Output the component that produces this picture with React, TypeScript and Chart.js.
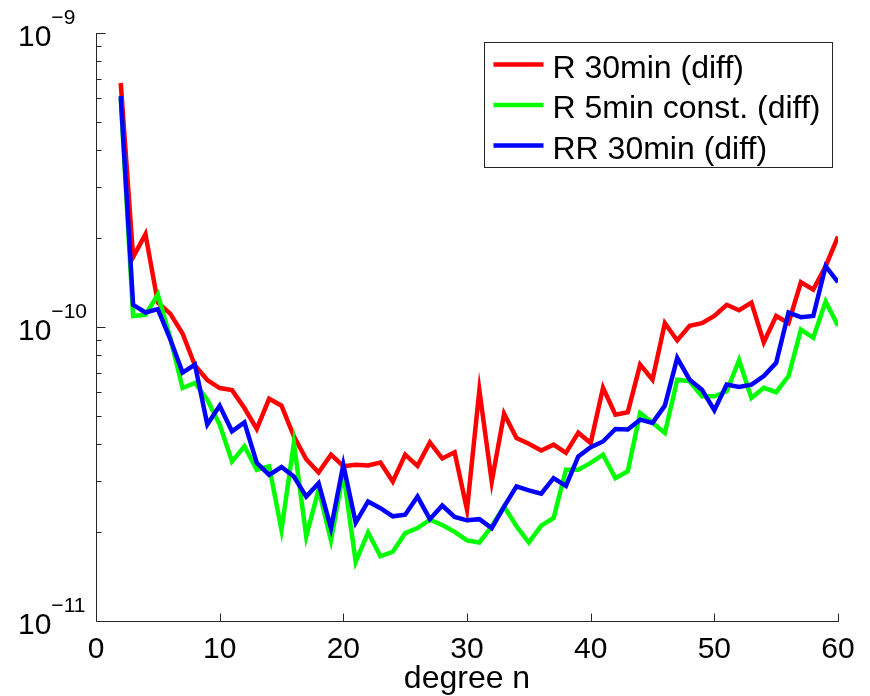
import React, { useEffect, useRef } from "react";
import { Chart, registerables } from "chart.js";

Chart.register(...registerables);

const degrees = [
  2, 3, 4, 5, 6, 7, 8, 9, 10, 11, 12, 13, 14, 15, 16, 17, 18, 19, 20, 21,
  22, 23, 24, 25, 26, 27, 28, 29, 30, 31, 32, 33, 34, 35, 36, 37, 38, 39, 40, 41,
  42, 43, 44, 45, 46, 47, 48, 49, 50, 51, 52, 53, 54, 55, 56, 57, 58, 59, 60,
];

const r30 = [
  6.76e-10, 1.73e-10, 2.07e-10, 1.21e-10, 1.11e-10, 9.5e-11, 7.4e-11, 6.6e-11, 6.2e-11, 6.1e-11,
  5.3e-11, 4.5e-11, 5.7e-11, 5.4e-11, 4.25e-11, 3.55e-11, 3.2e-11, 3.68e-11, 3.36e-11, 3.4e-11,
  3.38e-11, 3.46e-11, 2.98e-11, 3.68e-11, 3.37e-11, 4.05e-11, 3.57e-11, 3.75e-11, 2.39e-11, 6.09e-11,
  2.98e-11, 5.07e-11, 4.19e-11, 4.01e-11, 3.8e-11, 3.98e-11, 3.73e-11, 4.37e-11, 4.03e-11, 6.21e-11,
  5.03e-11, 5.13e-11, 7.45e-11, 6.62e-11, 1.03e-10, 9.0e-11, 1.01e-10, 1.03e-10, 1.09e-10, 1.19e-10,
  1.14e-10, 1.21e-10, 8.87e-11, 1.09e-10, 1.03e-10, 1.42e-10, 1.34e-10, 1.61e-10, 2.03e-10,
];

const r5const = [
  6.0e-10, 1.09e-10, 1.1e-10, 1.29e-10, 9.2e-11, 6.2e-11, 6.45e-11, 5.66e-11, 4.66e-11, 3.49e-11,
  3.93e-11, 3.27e-11, 3.36e-11, 2.04e-11, 4.03e-11, 1.94e-11, 2.8e-11, 1.88e-11, 3.19e-11, 1.59e-11,
  2.0e-11, 1.66e-11, 1.72e-11, 1.99e-11, 2.07e-11, 2.21e-11, 2.12e-11, 2.01e-11, 1.88e-11, 1.85e-11,
  2.1e-11, 2.45e-11, 2.1e-11, 1.85e-11, 2.11e-11, 2.24e-11, 3.27e-11, 3.27e-11, 3.45e-11, 3.68e-11,
  3.06e-11, 3.23e-11, 5.1e-11, 4.72e-11, 4.36e-11, 6.62e-11, 6.54e-11, 5.81e-11, 5.81e-11, 6.04e-11,
  7.71e-11, 5.74e-11, 6.21e-11, 6.0e-11, 6.81e-11, 9.8e-11, 9.19e-11, 1.22e-10, 1.01e-10,
];

const rr30 = [
  6.1e-10, 1.19e-10, 1.12e-10, 1.15e-10, 9.1e-11, 7.0e-11, 7.45e-11, 4.66e-11, 5.4e-11, 4.42e-11,
  4.74e-11, 3.45e-11, 3.14e-11, 3.34e-11, 3.1e-11, 2.65e-11, 2.94e-11, 2.07e-11, 3.4e-11, 2.16e-11,
  2.55e-11, 2.42e-11, 2.27e-11, 2.3e-11, 2.65e-11, 2.22e-11, 2.47e-11, 2.26e-11, 2.2e-11, 2.22e-11,
  2.07e-11, 2.45e-11, 2.87e-11, 2.78e-11, 2.71e-11, 3.06e-11, 2.88e-11, 3.63e-11, 3.9e-11, 4.08e-11,
  4.5e-11, 4.48e-11, 4.84e-11, 4.72e-11, 5.4e-11, 7.85e-11, 6.62e-11, 6.12e-11, 5.21e-11, 6.37e-11,
  6.25e-11, 6.37e-11, 6.81e-11, 7.55e-11, 1.12e-10, 1.08e-10, 1.09e-10, 1.61e-10, 1.42e-10,
];

const seriesLabels = ["R 30min (diff)", "R 5min const. (diff)", "RR 30min (diff)"];
const seriesColors = ["#ff0000", "#00ff00", "#0000ff"];
const xTicks = [0, 10, 20, 30, 40, 50, 60];
const yExponents = [-9, -10, -11];
const xTitle = "degree n";

const FONT = "'Liberation Sans', Arial, Helvetica, sans-serif";
const AXIS_COLOR = "#262626";

const axesPlugin = {
  id: "matlabAxes",
  afterDatasetsDraw(chart: any) {
    const { ctx, chartArea, scales } = chart;
    const { left, right, top, bottom } = chartArea;
    const xs = scales.x;
    const ys = scales.y;
    ctx.save();
    ctx.strokeStyle = AXIS_COLOR;
    ctx.lineWidth = 1;
    ctx.beginPath();
    const lx = Math.round(left) + 0.5;
    const by = Math.round(bottom) + 0.5;
    ctx.moveTo(lx, Math.round(top));
    ctx.lineTo(lx, by);
    ctx.lineTo(Math.round(right) + 1, by);
    // y ticks (major + minor), inward
    const minE = Math.min(...yExponents);
    const maxE = Math.max(...yExponents);
    for (let e = minE; e <= maxE; e++) {
      const kMax = e === maxE ? 1 : 9;
      for (let k = 1; k <= kMax; k++) {
        const v = k * Math.pow(10, e);
        const py = Math.round(ys.getPixelForValue(v)) + 0.5;
        const len = k === 1 ? 9 : 5;
        ctx.moveTo(lx, py);
        ctx.lineTo(lx + len, py);
      }
    }
    // x ticks inward
    xTicks.forEach((t) => {
      if (t === xs.min) return;
      const px = Math.round(xs.getPixelForValue(t)) + 0.5;
      ctx.moveTo(px, by);
      ctx.lineTo(px, by - 8);
    });
    ctx.stroke();

    // x tick labels
    ctx.fillStyle = "#000";
    ctx.textAlign = "center";
    ctx.textBaseline = "alphabetic";
    ctx.font = `30px ${FONT}`;
    xTicks.forEach((t) => {
      const px = xs.getPixelForValue(t);
      ctx.fillText(String(t), px, bottom + 37);
    });

    // x title
    ctx.font = `32px ${FONT}`;
    ctx.fillText(xTitle, (left + right) / 2, bottom + 67);

    // y tick labels 10^e
    ctx.textAlign = "left";
    yExponents.forEach((e) => {
      const py = ys.getPixelForValue(Math.pow(10, e));
      ctx.font = `30px ${FONT}`;
      ctx.fillText("10", 18, py + 12.5);
      const w = ctx.measureText("10").width;
      ctx.font = `21px ${FONT}`;
      ctx.fillText("\u2212" + String(Math.abs(e)), 18 + w, py - 9);
    });

    // legend
    const bx = Math.round(right) - 354 + 0.5;
    const bt = Math.round(top) + 9 + 0.5;
    const bw = 348;
    const bh = 125;
    ctx.fillStyle = "#fff";
    ctx.fillRect(bx, bt, bw, bh);
    ctx.strokeStyle = AXIS_COLOR;
    ctx.lineWidth = 1;
    ctx.strokeRect(bx, bt, bw, bh);
    ctx.font = `32px ${FONT}`;
    seriesLabels.forEach((lab, i) => {
      const ry = bt + 22 + i * 40.5;
      ctx.strokeStyle = seriesColors[i];
      ctx.lineWidth = 4.5;
      ctx.beginPath();
      ctx.moveTo(bx + 9, ry);
      ctx.lineTo(bx + 59, ry);
      ctx.stroke();
      ctx.fillStyle = "#000";
      ctx.fillText(lab, bx + 68, ry + 13);
    });
    ctx.restore();
  },
};

export default function App() {
  const canvasRef = useRef<HTMLCanvasElement | null>(null);

  useEffect(() => {
    const canvas = canvasRef.current;
    if (!canvas) return;
    const seriesValues = [r30, r5const, rr30];
    const chart = new Chart(canvas, {
      type: "line",
      data: {
        datasets: seriesValues.map((vals, i) => ({
          label: seriesLabels[i],
          data: degrees.map((d, j) => ({ x: d, y: vals[j] })),
          borderColor: seriesColors[i],
          backgroundColor: seriesColors[i],
          borderWidth: 4.5,
          pointRadius: 0,
          tension: 0,
          fill: false,
          order: 2 - i,
        })),
      },
      options: {
        responsive: false,
        animation: false,
        devicePixelRatio: 1,
        layout: { padding: { top: 33, right: 32, left: 0, bottom: 0 } },
        plugins: {
          legend: { display: false },
          tooltip: { enabled: false },
          title: { display: false },
        },
        scales: {
          x: {
            type: "linear",
            min: 0,
            max: 60,
            grid: { display: false },
            border: { display: false },
            ticks: { display: false },
            afterFit: (s: any) => {
              s.height = 75;
            },
          },
          y: {
            type: "logarithmic",
            min: 1e-11,
            max: 1e-9,
            grid: { display: false },
            border: { display: false },
            ticks: { display: false },
            afterFit: (s: any) => {
              s.width = 96;
            },
          },
        },
      } as any,
      plugins: [axesPlugin],
    });
    return () => chart.destroy();
  }, []);

  return (
    <div style={{ position: "fixed", left: 0, top: 0, width: 870, height: 696, background: "#fff" }}>
      <canvas ref={canvasRef} width={870} height={696} style={{ width: 870, height: 696 }} />
    </div>
  );
}
